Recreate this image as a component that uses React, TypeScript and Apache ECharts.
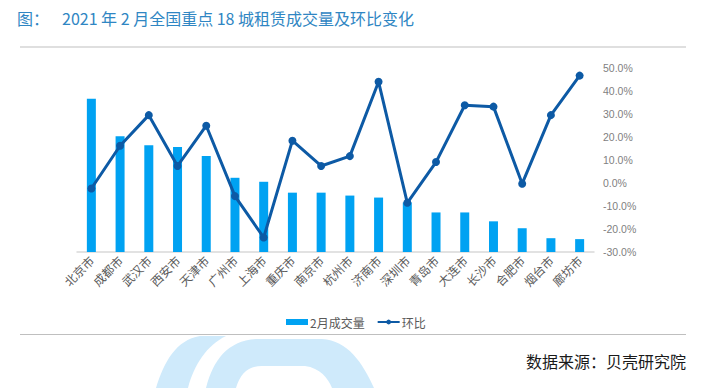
import React, { useEffect, useRef } from "react";
import * as echarts from "echarts";

const cities = ["北京市", "成都市", "武汉市", "西安市", "天津市", "广州市", "上海市", "重庆市", "南京市", "杭州市", "济南市", "深圳市", "青岛市", "大连市", "长沙市", "合肥市", "烟台市", "廊坊市"];
const volume = [10000, 7550, 6970, 6840, 6260, 4840, 4580, 3870, 3870, 3680, 3550, 3230, 2580, 2580, 2000, 1550, 900, 840];
const momPct = [-2.4, 16.2, 29.5, 7.4, 24.9, -5.7, -23.7, 18.4, 7.4, 11.7, 44.0, -8.6, 9.1, 33.8, 33.2, -0.3, 29.5, 46.7];
const seriesNames = ["2月成交量", "环比"];
const titleText = "2021 年 2 月全国重点 18 城租赁成交量及环比变化";
const sourceText = "数据来源：贝壳研究院";

const CJK = "'Noto Sans CJK SC', 'Noto Sans', sans-serif";

echarts.graphic.registerShape(
  "wmLeft",
  echarts.graphic.extendPath(
    "M156 388 C164 362 176 340 200 336 L226 336 C207 345 194 365 188 388 Z",
    {}
  )
);
echarts.graphic.registerShape(
  "wmRight",
  echarts.graphic.extendPath(
    "M206 388 C213 360 228 340 258 339 L322 339 C348 341 362 362 374 388 Z",
    {}
  )
);
echarts.graphic.registerShape(
  "wmHole",
  echarts.graphic.extendPath(
    "M236 388 C240 374 248 366 262 366 L305 366 C320 368 328 378 332 388 Z",
    {}
  )
);

export default function App() {
  const ref = useRef<HTMLDivElement>(null);
  useEffect(() => {
    if (!ref.current) return;
    const chart = echarts.init(ref.current, null, { renderer: "svg" });
    chart.setOption({
      animation: false,
      backgroundColor: "#ffffff",
      textStyle: { fontFamily: CJK },
      graphic: [
        { type: "wmLeft", x: 0, y: 0, silent: true, z: -10, style: { fill: "#cfeafb" } },
        { type: "wmRight", x: 0, y: 0, silent: true, z: -10, style: { fill: "#cfeafb" } },
        { type: "wmHole", x: 0, y: 0, silent: true, z: -9, style: { fill: "#ffffff" } },
        {
          type: "text",
          left: 17,
          top: 10,
          style: { text: "图：", fill: "#2f86c3", font: `16px ${CJK}` },
        },
        {
          type: "text",
          left: 62,
          top: 10,
          style: { text: titleText, fill: "#2f86c3", font: `16px ${CJK}` },
        },
        {
          type: "line",
          shape: { x1: 20, y1: 47, x2: 686, y2: 47 },
          style: { stroke: "#bfbfbf", lineWidth: 1 },
        },
        {
          type: "line",
          shape: { x1: 20, y1: 334.5, x2: 686, y2: 334.5 },
          style: { stroke: "#bfbfbf", lineWidth: 1 },
        },
        {
          type: "text",
          right: 18,
          top: 353,
          style: { text: sourceText, fill: "#1a1a1a", font: `16px ${CJK}` },
        },
      ],
      legend: {
        top: 311,
        left: 281,
        itemGap: 12,
        textStyle: { color: "#595959", fontSize: 12, fontFamily: CJK, padding: [0, 0, 0, -3] },
        data: [
          { name: seriesNames[0], icon: "rect", itemStyle: { color: "#00a2f2" } },
          { name: seriesNames[1] },
        ],
        itemWidth: 22,
        itemHeight: 6,
      },
      grid: { left: 77, right: 110, top: 68, bottom: 136 },
      xAxis: {
        type: "category",
        data: cities,
        axisLine: { lineStyle: { color: "#d9d9d9", width: 1.5 } },
        axisTick: { show: false },
        axisLabel: {
          rotate: 45,
          color: "#595959",
          fontSize: 12,
          fontFamily: CJK,
          margin: 6,
          interval: 0,
        },
      },
      yAxis: [
        {
          type: "value",
          min: 0,
          max: 12000,
          interval: 1500,
          show: false,
          splitLine: { show: false },
        },
        {
          type: "value",
          position: "right",
          min: -30,
          max: 50,
          interval: 10,
          axisLine: { show: false },
          axisTick: { show: false },
          splitLine: { show: false },
          axisLabel: {
            color: "#7f7f7f",
            fontSize: 10.5,
            fontFamily: "'Liberation Sans Narrow', 'Liberation Sans', sans-serif",
            margin: 9,
            formatter: (v: number) => v.toFixed(1) + "%",
          },
        },
      ],
      series: [
        {
          name: seriesNames[0],
          type: "bar",
          data: volume,
          barWidth: 9,
          yAxisIndex: 0,
          itemStyle: { color: "#00a2f2" },
        },
        {
          name: seriesNames[1],
          type: "line",
          data: momPct,
          yAxisIndex: 1,
          symbol: "circle",
          symbolSize: 8,
          lineStyle: { color: "#0d5aa5", width: 3 },
          itemStyle: { color: "#0d5aa5" },
        },
      ],
    });
    return () => chart.dispose();
  }, []);
  return (
    <div
      ref={ref}
      style={{ position: "fixed", left: 0, top: 0, width: 704, height: 388 }}
    />
  );
}
